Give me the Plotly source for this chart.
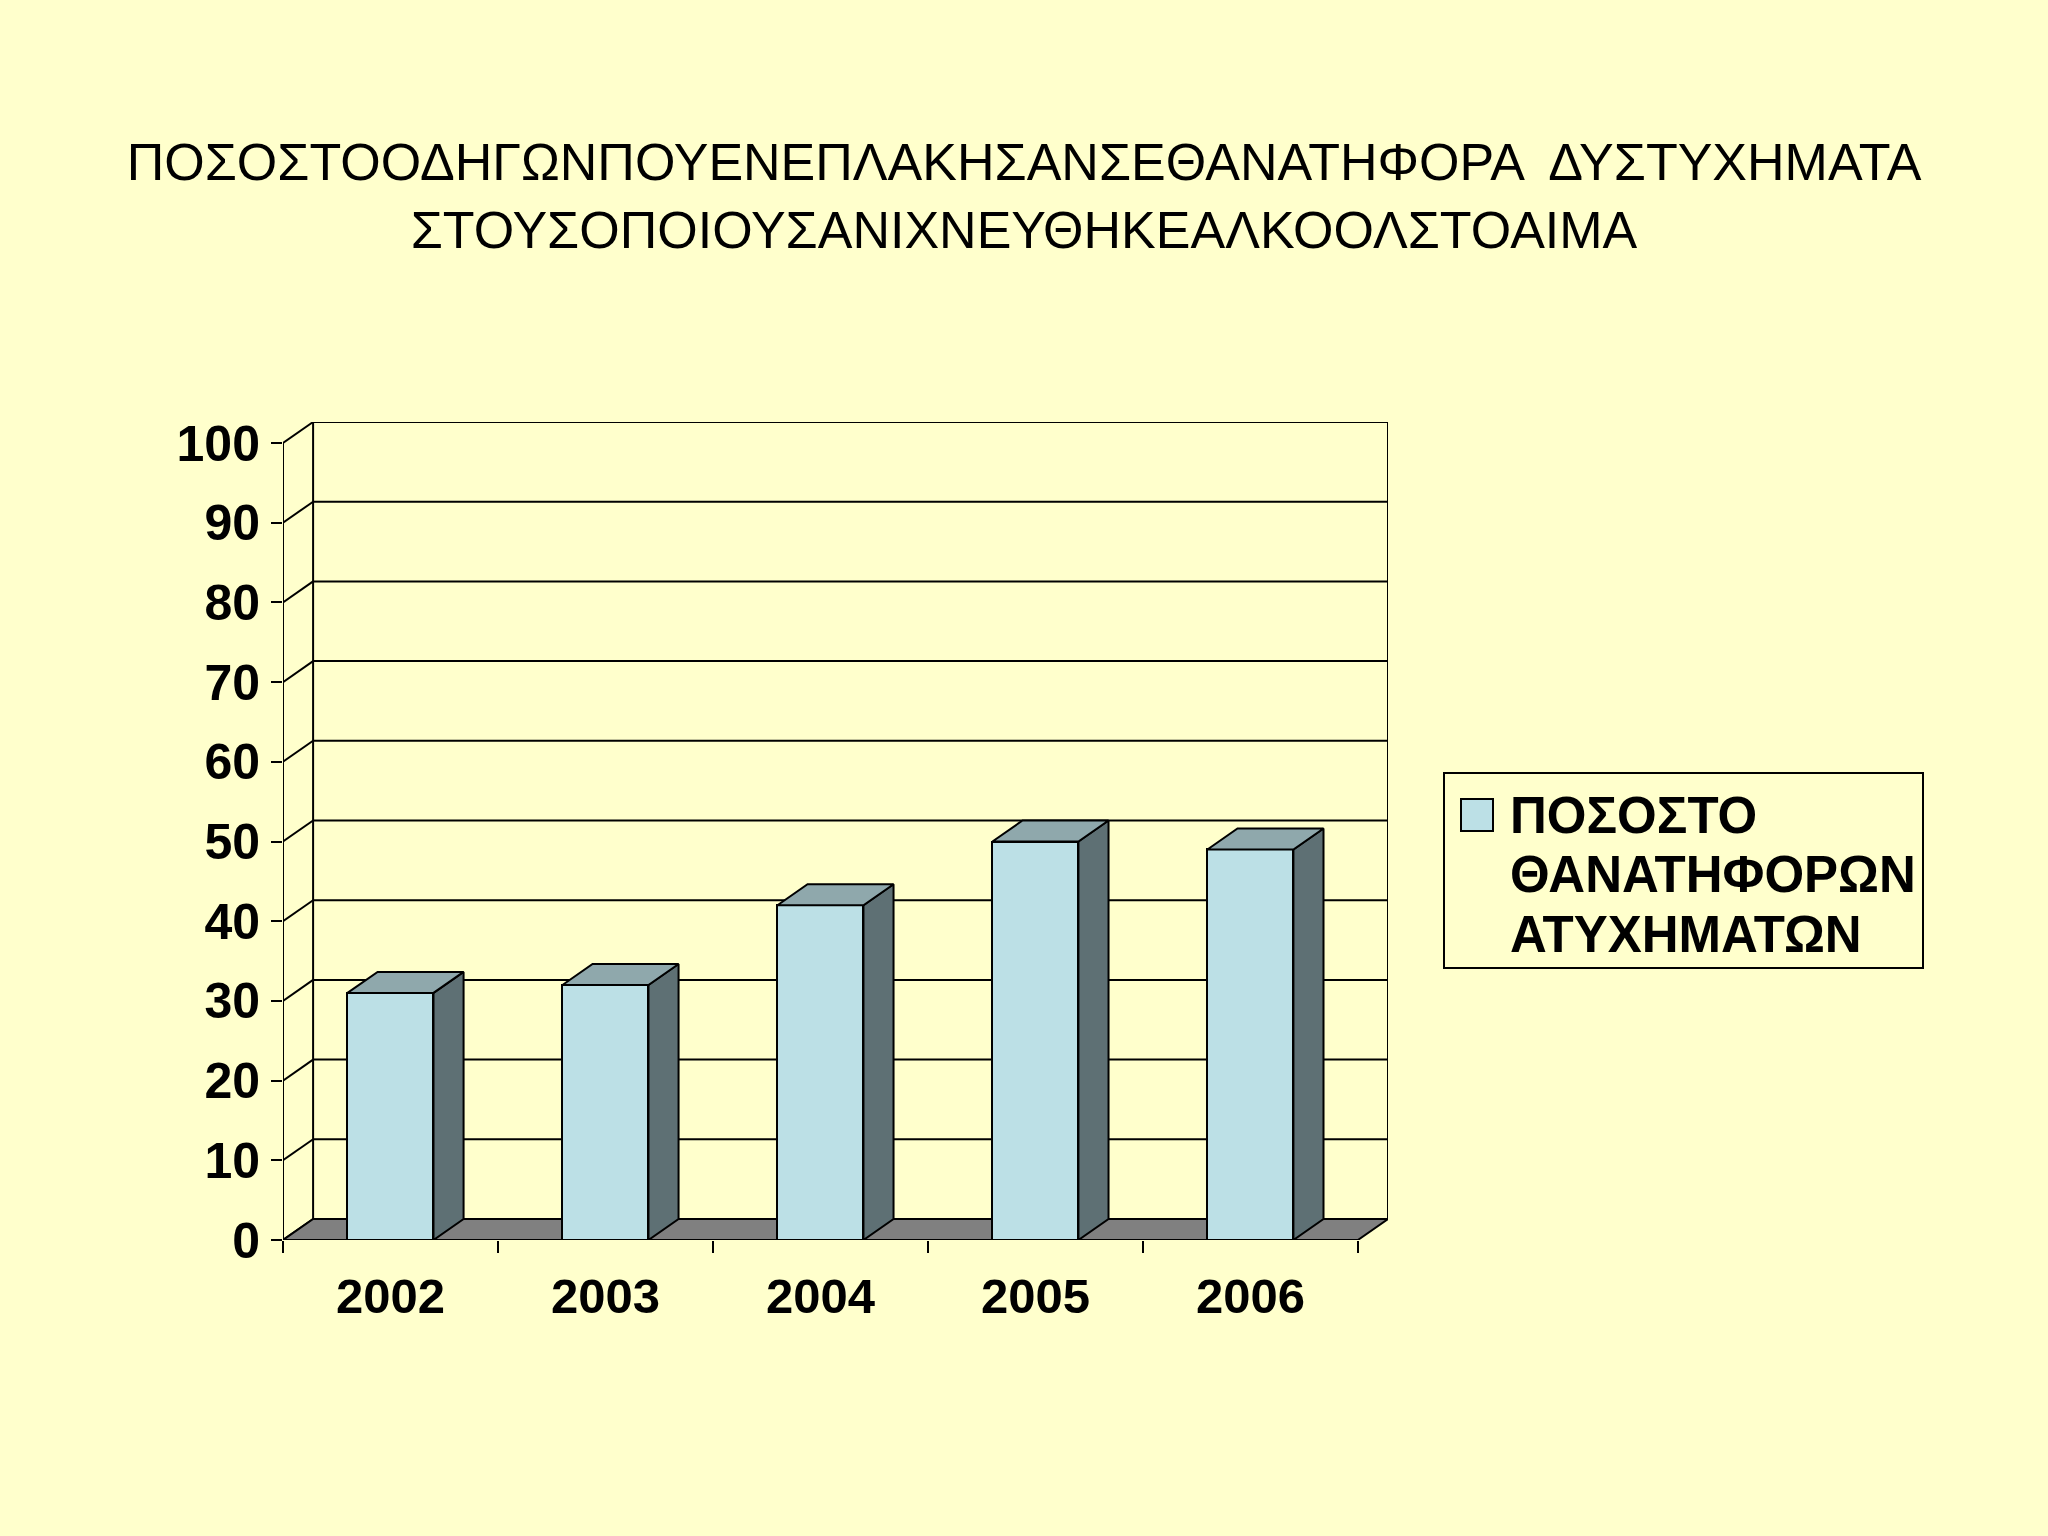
import plotly.graph_objects as go

# ---- data ----
years = ["2002", "2003", "2004", "2005", "2006"]
values = [31, 32, 42, 50, 49]
series_lines = ["ΠΟΣΟΣΤΟ", "ΘΑΝΑΤΗΦΟΡΩΝ", "ΑΤΥΧΗΜΑΤΩΝ"]
y_ticks = [0, 10, 20, 30, 40, 50, 60, 70, 80, 90, 100]
title_lines = ["ΠΟΣΟΣΤΟΟΔΗΓΩΝΠΟΥΕΝΕΠΛΑΚΗΣΑΝΣΕΘΑΝΑΤΗΦΟΡΑ  ΔΥΣΤΥΧΗΜΑΤΑ",
               "ΣΤΟΥΣΟΠΟΙΟΥΣΑΝΙΧΝΕΥΘΗΚΕΑΛΚΟΟΛΣΤΟΑΙΜΑ"]

# ---- style / geometry ----
W, H = 2048, 1536
BG = "#FFFFCC"
FRONT = "#BCE0E6"
SIDE = "#5E7074"
TOP = "#8FA8AC"
FLOOR = "#808080"
FONT = "Liberation Sans"
LW = 2
# pixel frame of the plot area
PX_L, PX_R = 283, 1388
PX_T, PX_B = 422, 1240
YMAX = 100
DX = 0.14          # depth offset in x units
PX_PER_Y = (PX_B - 443) / YMAX
DY = (PX_B - PX_T) / PX_PER_Y - YMAX  # depth offset in y units
BW = 0.4
n = len(years)
xs = list(range(n))
X0, X1 = -0.5, n - 0.5

fig = go.Figure()
shapes = []

def line(x0, y0, x1, y1, layer="below"):
    shapes.append(dict(type="line", xref="x", yref="y", x0=x0, y0=y0, x1=x1, y1=y1,
                       line=dict(color="black", width=LW), layer=layer))

# back wall gridlines and edges
for v in y_ticks:
    line(X0 + DX, v + DY, X1 + DX, v + DY)
line(X0 + DX, DY, X0 + DX, YMAX + DY)
line(X1 + DX, DY, X1 + DX, YMAX + DY)
# left wall
line(X0, 0, X0, YMAX)
for v in y_ticks:
    line(X0, v, X0 + DX, v + DY)
# floor
shapes.append(dict(type="path", xref="x", yref="y",
                   path=f"M {X0},0 L {X1},0 L {X1+DX},{DY} L {X0+DX},{DY} Z",
                   fillcolor=FLOOR, line=dict(color="black", width=LW), layer="below"))

# front faces
fig.add_trace(go.Bar(x=xs, y=values, width=BW, name=" ".join(series_lines),
                     marker=dict(color=FRONT, line=dict(color="black", width=LW)),
                     showlegend=False, hoverinfo="skip"))
# side and top faces
for x, v in zip(xs, values):
    r = x + BW / 2
    l = x - BW / 2
    fig.add_trace(go.Scatter(x=[r, r + DX, r + DX, r, r], y=[0, DY, v + DY, v, 0],
                             fill="toself", fillcolor=SIDE, mode="lines",
                             line=dict(color="black", width=LW), showlegend=False, hoverinfo="skip"))
    fig.add_trace(go.Scatter(x=[l, r, r + DX, l + DX, l], y=[v, v, v + DY, v + DY, v],
                             fill="toself", fillcolor=TOP, mode="lines",
                             line=dict(color="black", width=LW), showlegend=False, hoverinfo="skip"))

# manual legend
def px2paper_x(p):
    return (p - PX_L) / (PX_R - PX_L)

def px2paper_y(p):
    return (PX_B - p) / (PX_B - PX_T)

shapes.append(dict(type="rect", xref="paper", yref="paper",
                   x0=px2paper_x(1444), x1=px2paper_x(1923), y0=px2paper_y(968), y1=px2paper_y(773),
                   line=dict(color="black", width=LW), fillcolor=BG, layer="above"))
shapes.append(dict(type="rect", xref="paper", yref="paper",
                   x0=px2paper_x(1461), x1=px2paper_x(1493), y0=px2paper_y(831), y1=px2paper_y(799),
                   line=dict(color="black", width=LW), fillcolor=FRONT, layer="above"))
for i, txt in enumerate(series_lines):
    fig.add_annotation(xref="paper", yref="paper", x=px2paper_x(1508), y=px2paper_y(815 + 59.5 * i),
                       xanchor="left", yanchor="middle", align="left", showarrow=False,
                       text=txt, font=dict(family=FONT, size=51, color="black", weight="bold"))

fig.update_layout(
    width=W, height=H,
    paper_bgcolor=BG, plot_bgcolor=BG,
    margin=dict(l=PX_L, r=W - PX_R, t=PX_T, b=H - PX_B, pad=0),
    shapes=shapes,
    showlegend=False,
    title=dict(text="<br>".join(title_lines), x=0.5, xanchor="center",
               yref="container", y=1 - 180 / H, yanchor="top",
               font=dict(family=FONT, size=52, color="black")),
    xaxis=dict(range=[X0, X1 + DX], tickmode="array", tickvals=xs, ticktext=years,
               showgrid=False, zeroline=False, showline=False, ticks="",
               ticklabelstandoff=23,
               tickfont=dict(family=FONT, size=49, color="black", weight="bold"),
               minor=dict(tickmode="array", tickvals=[X0 + i for i in range(n + 1)],
                          ticks="outside", ticklen=12, tickwidth=LW, tickcolor="black",
                          showgrid=False),
               fixedrange=True),
    yaxis=dict(range=[0, YMAX + DY], tickmode="array", tickvals=y_ticks,
               showgrid=False, zeroline=False, showline=False,
               ticks="outside", ticklen=11, tickwidth=LW, tickcolor="black",
               ticklabelstandoff=1,
               tickfont=dict(family=FONT, size=50, color="black", weight="bold"),
               fixedrange=True),
    bargap=0,
)

fig.write_html("out.html", config={"displayModeBar": False},
               post_script="document.body.style.margin='0';")
